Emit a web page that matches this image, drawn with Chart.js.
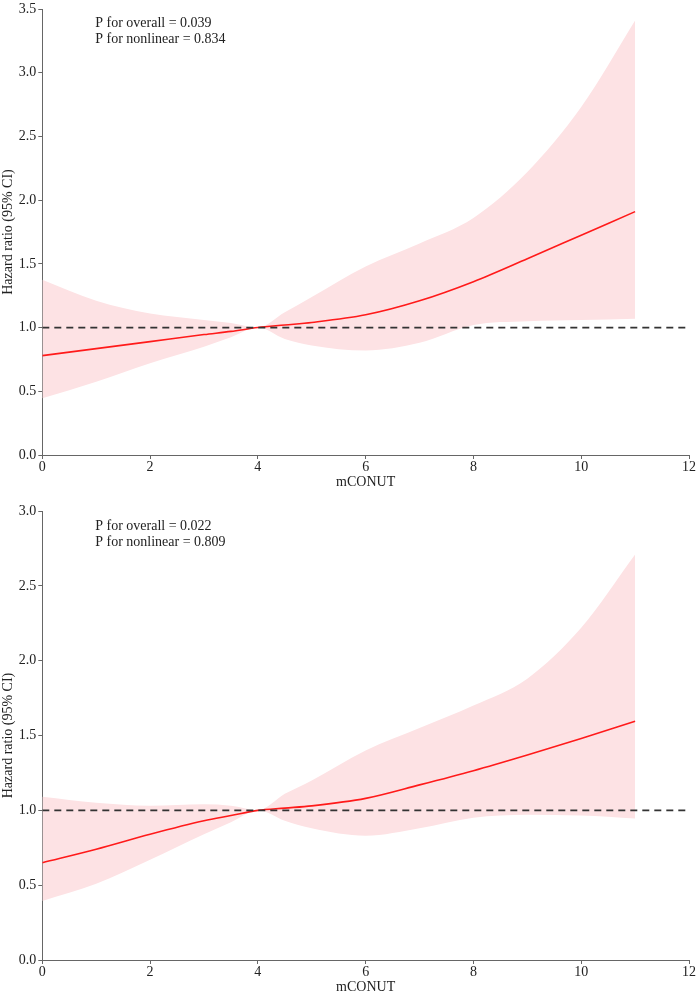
<!DOCTYPE html>
<html>
<head>
<meta charset="utf-8">
<script src="https://cdn.jsdelivr.net/npm/chart.js@4.4.1/dist/chart.umd.min.js"></script>
<style>
  body { margin: 0; background: #fff; overflow: hidden; }
  canvas { display: block; }
</style>
</head>
<body>
<canvas id="topChart" width="700" height="497"></canvas>
<canvas id="bottomChart" width="700" height="497"></canvas>
<script>
// mCONUT grid (x values)
const mconut = [0, 1, 2, 3, 3.5, 4, 4.5, 5, 6, 7, 8, 9, 10, 11];

// top panel
const hrTop    = [0.78, 0.835, 0.89, 0.945, 0.97, 1.0, 1.02, 1.04, 1.10, 1.21, 1.36, 1.54, 1.725, 1.91];
const upperTop = [1.375, 1.21, 1.11, 1.06, 1.035, 1.0, 1.12, 1.24, 1.48, 1.66, 1.86, 2.22, 2.73, 3.41];
const lowerTop = [0.445, 0.575, 0.72, 0.85, 0.925, 1.0, 0.91, 0.86, 0.82, 0.88, 1.02, 1.05, 1.06, 1.07];
const pTextTop = ['P for overall = 0.039', 'P for nonlinear = 0.834'];

// bottom panel
const hrBottom    = [0.65, 0.74, 0.84, 0.93, 0.965, 1.0, 1.015, 1.03, 1.08, 1.17, 1.265, 1.37, 1.48, 1.595];
const upperBottom = [1.09, 1.05, 1.03, 1.04, 1.03, 1.0, 1.11, 1.20, 1.40, 1.55, 1.70, 1.88, 2.22, 2.71];
const lowerBottom = [0.395, 0.51, 0.67, 0.84, 0.92, 1.0, 0.93, 0.88, 0.83, 0.88, 0.95, 0.97, 0.965, 0.945];
const pTextBottom = ['P for overall = 0.022', 'P for nonlinear = 0.809'];

const xRange = [0, 12];
const refLine = 1;

const FONT = "'Liberation Serif', 'DejaVu Serif', serif";
const TEXT = '#222';
const AXIS = '#666';

function pts(ys) {
    return ys.map((y, i) => ({ x: mconut[i], y: y }));
}

// draws the two P-value lines in the upper-left corner
const pTextPlugin = {
    id: 'pText',
    afterDraw(chart, args, opts) {
        const ctx = chart.ctx;
        const x = chart.scales.x.getPixelForValue(1) - 1;
        ctx.save();
        ctx.font = '14px ' + FONT;
        ctx.fillStyle = TEXT;
        ctx.textBaseline = 'alphabetic';
        opts.lines.forEach((line, i) => {
            ctx.fillText(line, x, chart.chartArea.top + opts.offset + i * 15.5);
        });
        ctx.restore();
    }
};

function makeChart(id, hr, upper, lower, yMax, lines, textOffset, pad) {
    const ctx = document.getElementById(id).getContext('2d');
    return new Chart(ctx, {
        type: 'line',
        data: {
            datasets: [
                {
                    data: pts(upper),
                    borderWidth: 0,
                    pointRadius: 0,
                    fill: false,
                    cubicInterpolationMode: 'monotone'
                },
                {
                    data: pts(lower),
                    borderWidth: 0,
                    pointRadius: 0,
                    backgroundColor: 'rgba(253, 226, 228, 1)',
                    fill: '-1',
                    cubicInterpolationMode: 'monotone'
                },
                {
                    data: [{ x: xRange[0], y: refLine }, { x: xRange[1], y: refLine }],
                    borderColor: '#333',
                    borderWidth: 1.8,
                    borderDash: [7, 5],
                    pointRadius: 0,
                    fill: false
                },
                {
                    data: pts(hr),
                    borderColor: '#ff1a1a',
                    borderWidth: 1.6,
                    pointRadius: 0,
                    fill: false,
                    cubicInterpolationMode: 'monotone'
                }
            ]
        },
        options: {
            responsive: false,
            animation: false,
            layout: { padding: pad },
            scales: {
                x: {
                    type: 'linear',
                    min: xRange[0],
                    max: xRange[1],
                    ticks: {
                        stepSize: 2,
                        color: TEXT,
                        font: { family: FONT, size: 14, lineHeight: 1.0 },
                        padding: 1
                    },
                    grid: { display: true, drawOnChartArea: false, drawTicks: true, tickLength: 4, color: AXIS },
                    border: { display: true, color: AXIS, width: 1 },
                    title: {
                        display: true,
                        text: 'mCONUT',
                        color: TEXT,
                        font: { family: FONT, size: 14, lineHeight: 1.0 },
                        padding: { top: 0, bottom: 0 }
                    }
                },
                y: {
                    min: 0,
                    max: yMax,
                    ticks: {
                        stepSize: 0.5,
                        color: TEXT,
                        font: { family: FONT, size: 14, lineHeight: 1.0 },
                        padding: 2,
                        callback: v => v.toFixed(1)
                    },
                    grid: { display: true, drawOnChartArea: false, drawTicks: true, tickLength: 4, color: AXIS },
                    border: { display: true, color: AXIS, width: 1 },
                    title: {
                        display: true,
                        text: 'Hazard ratio (95% CI)',
                        color: TEXT,
                        font: { family: FONT, size: 14 },
                        padding: { top: 0, bottom: 0 }
                    }
                }
            },
            plugins: {
                legend: { display: false },
                tooltip: { enabled: false },
                filler: { drawTime: 'beforeDatasetsDraw' },
                pText: { lines: lines, offset: textOffset }
            }
        },
        plugins: [pTextPlugin]
    });
}

makeChart('topChart', hrTop, upperTop, lowerTop, 3.5, pTextTop, 18, { top: 0, right: 11, left: 0, bottom: 8 });
makeChart('bottomChart', hrBottom, upperBottom, lowerBottom, 3.0, pTextBottom, 19, { top: 14, right: 11, left: 0, bottom: 0 });
</script>
</body>
</html>
